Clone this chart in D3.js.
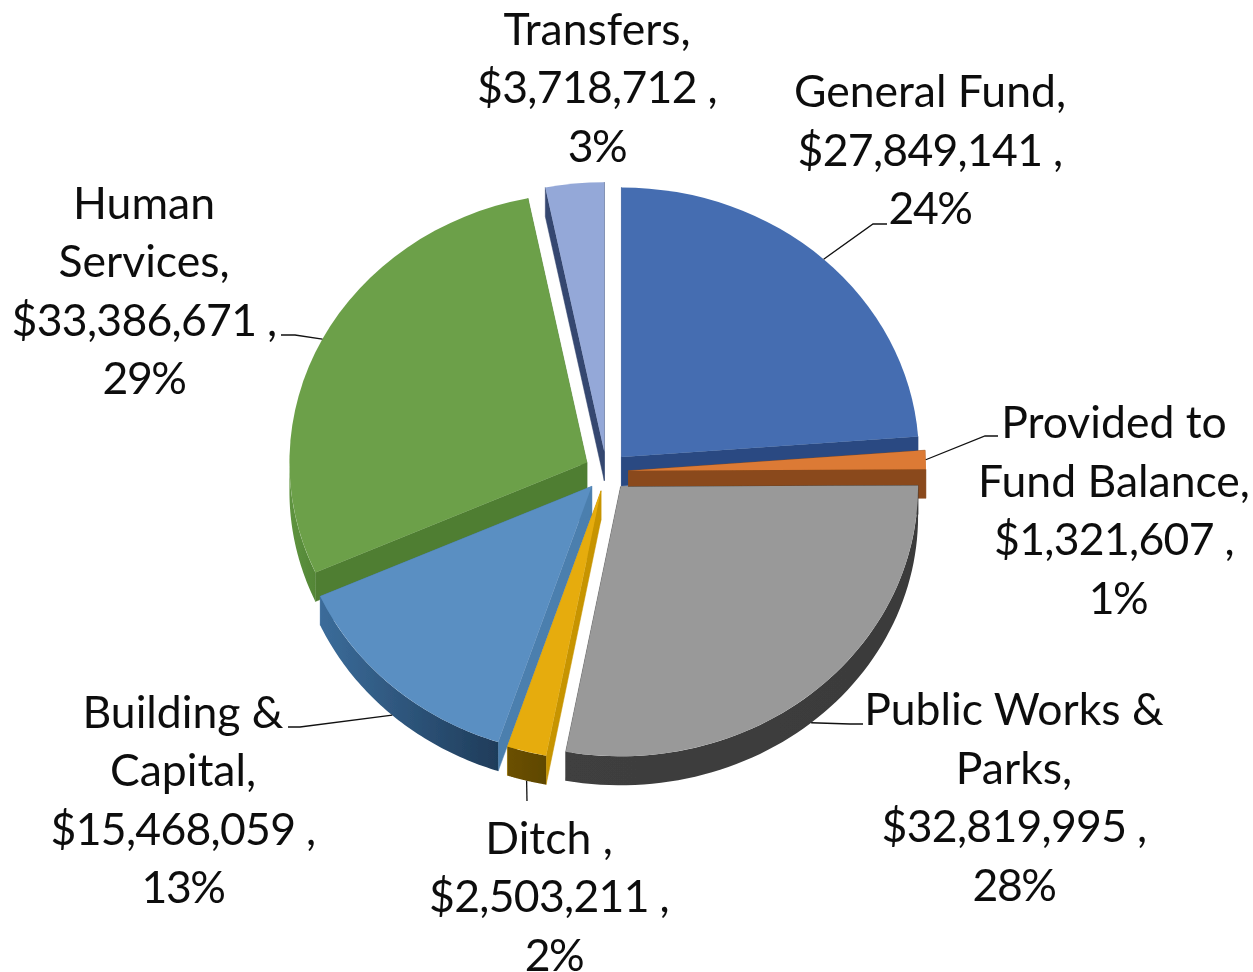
<!DOCTYPE html>
<html><head><meta charset="utf-8">
<style>html,body{margin:0;padding:0;background:#fff}svg{display:block}text{font-family:Lato,"Open Sans",sans-serif;fill:#111}</style>
<script src="https://cdn.jsdelivr.net/npm/d3@7/dist/d3.min.js"></script>
</head><body>
<script>
// ---- data ----
const categories = ["General Fund","Provided to Fund Balance","Public Works & Parks","Ditch ","Building & Capital","Human Services","Transfers"];
const values = [27849141,1321607,32819995,2503211,15468059,33386671,3718712];
const nameLines = [["General Fund,"],["Provided to","Fund Balance,"],["Public Works &","Parks,"],["Ditch ,"],["Building &","Capital,"],["Human","Services,"],["Transfers,"]];
// ---- styles ----
const topColors = ["#446db1","#dc7a34","#999999","#e6ac0c","#5a8fc2","#6ca049","#94a8d8"];
const radialColors = ["#2a4a82","#8a4a1c","#3d3d3d","#c79400","#4c7fae","#4f7e33","#34466f"];
const wallStops = [["#2a4a82","#2a4a82"],["#8a4a1c","#8a4a1c"],["#3f3f3f","#3a3a3a"],["#6b5000","#5f4700"],["#3b6c9a","#1f3c5a"],["#5f9440","#538636"],["#34466f","#34466f"]];
// ---- layout ----
const W=1253,H=972,cx=606.5,cy=471.5,rx=297.5,ry=269.5,depth=29,explode=22,fs=44.5,lh=58.5;
const drawOrder=[6,0,1,5,2,4,3];
const labelPos=[[930,107],[1114,438],[1014,725],[549,853.5],[183,727.5],[144,218.5],[597,44.5]];
const percentNudge=[0,4,0,5,0,0,0];
const leaderBends=[[[873,224],[887,224]],[[985,436],[998,436]],[[850,724],[863,724]],[[527,801]],[[300,727],[288,727]],[[295,335],[281,335]],null];

const svg=d3.select("body").append("svg").attr("width",W).attr("height",H);
const defs=svg.append("defs");
defs.append("filter").attr("id","soft").attr("x","-5%").attr("y","-5%").attr("width","110%").attr("height","110%")
  .append("feGaussianBlur").attr("stdDeviation",0.55);
defs.append("filter").attr("id","softText").attr("x","-5%").attr("y","-5%").attr("width","110%").attr("height","110%")
  .append("feGaussianBlur").attr("stdDeviation",0.35);
const total=d3.sum(values);
const pie=d3.pie().sort(null).value(d=>d)(values);
const arc=d3.arc().innerRadius(0).outerRadius(rx);
const ratio=ry/rx;
const px=a=>rx*Math.sin(a), py=a=>-ry*Math.cos(a);
const slices=pie.map((d,i)=>{
  const mid=(d.startAngle+d.endAngle)/2;
  return {d,i,mid,ox:cx+explode*Math.sin(mid),oy:cy-explode*ratio*Math.cos(mid)};
});
const pieG=svg.append("g").attr("filter","url(#soft)");
const line=d3.line();
drawOrder.forEach(k=>{
  const s=slices[k],d=s.d,i=s.i;
  const g=pieG.append("g").attr("transform",`translate(${s.ox},${s.oy})`);
  [d.startAngle,d.endAngle].forEach(a=>{
    g.append("path").attr("fill",radialColors[i]).attr("stroke",radialColors[i]).attr("stroke-width",.5)
     .attr("d",line([[0,0],[px(a),py(a)],[px(a),py(a)+depth],[0,depth]])+"Z");
  });
  const lo=Math.max(d.startAngle,Math.PI/2),hi=Math.min(d.endAngle,Math.PI*1.5);
  if(hi>lo){
    const ang=d3.range(0,61).map(t=>lo+(hi-lo)*t/60);
    const gid="wall"+i;
    const xs=[px(lo),px(hi)];
    const gr=defs.append("linearGradient").attr("id",gid).attr("gradientUnits","userSpaceOnUse")
      .attr("x1",d3.min(xs)).attr("x2",d3.max(xs)).attr("y1",0).attr("y2",0);
    gr.append("stop").attr("offset",0).attr("stop-color",wallStops[i][0]);
    gr.append("stop").attr("offset",1).attr("stop-color",wallStops[i][1]);
    g.append("path").attr("fill",`url(#${gid})`)
     .attr("d",d3.area().x(px).y0(py).y1(a=>py(a)+depth)(ang));
  }
  g.append("path").attr("transform",`scale(1,${ratio})`).attr("fill",topColors[i]).attr("d",arc(d));
});
// leaders
slices.forEach(s=>{
  const b=leaderBends[s.i]; if(!b) return;
  const front=Math.cos(s.mid)<0;
  const p0=[s.ox+px(s.mid),s.oy+py(s.mid)+(front?depth:0)];
  svg.append("path").attr("fill","none").attr("stroke","#111").attr("stroke-width",1.3)
     .attr("d",line([p0,...b]));
});
// labels
const fmt=d3.format("$,"),pct=d3.format(".0%");
const textG=svg.append("g").attr("filter","url(#softText)");
slices.forEach(s=>{
  const names=nameLines[s.i];
  const t=textG.append("text").attr("text-anchor","middle").attr("font-size",fs).attr("aria-label",categories[s.i]);
  const [x,y]=labelPos[s.i];
  names.forEach((l,j)=>t.append("tspan").attr("x",x).attr("y",y+j*lh).text(l));
  t.append("tspan").attr("x",x).attr("y",y+names.length*lh).attr("letter-spacing",-0.7).text(fmt(values[s.i])+" ,");
  t.append("tspan").attr("x",x+percentNudge[s.i]).attr("y",y+(names.length+1)*lh).attr("letter-spacing",-1.5).text(pct(values[s.i]/total));
});
</script>
</body></html>
